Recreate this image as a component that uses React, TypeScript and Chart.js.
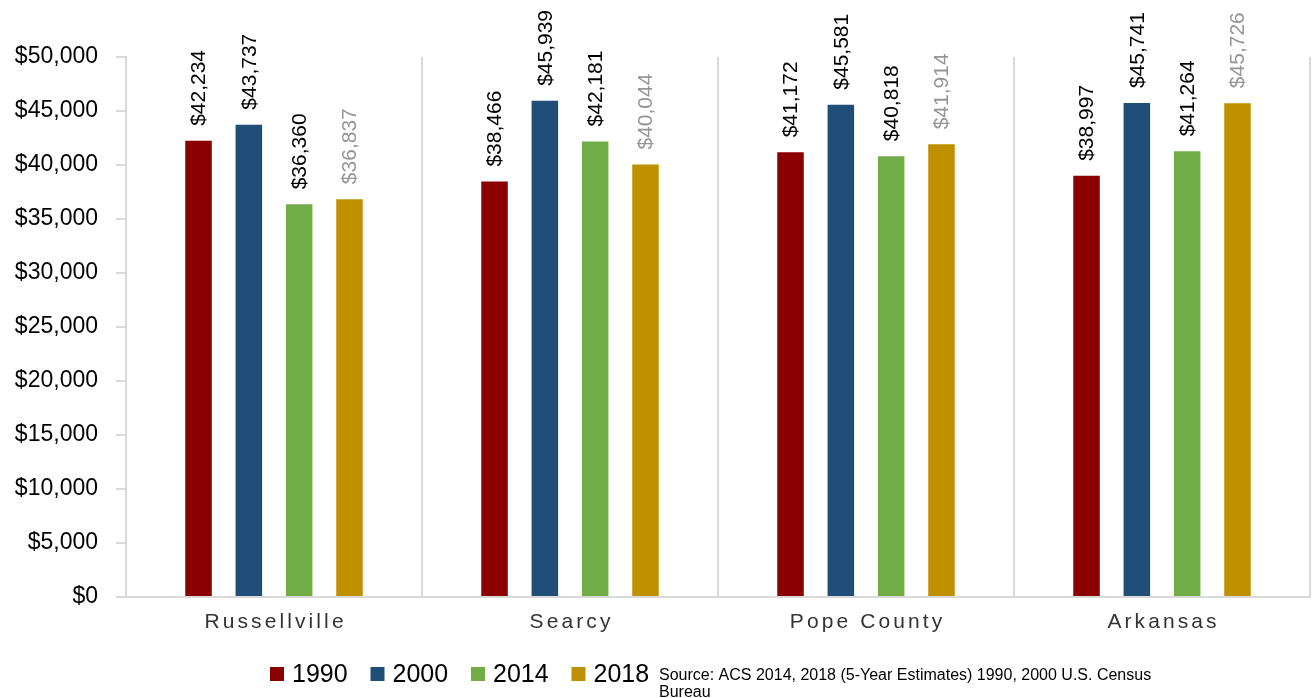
import React, { useEffect, useRef } from 'react';
import { Chart, registerables } from 'chart.js';

Chart.register(...registerables);

const categories = ['Russellville', 'Searcy', 'Pope County', 'Arkansas'];
const seriesLabels = ['1990', '2000', '2014', '2018'];
const values1990 = [42234, 38466, 41172, 38997];
const values2000 = [43737, 45939, 45581, 45741];
const values2014 = [36360, 42181, 40818, 41264];
const values2018 = [36837, 40044, 41914, 45726];
const seriesColors = ['#8B0000', '#1F4E79', '#70AD47', '#BF9000'];
const labelColors = ['#000000', '#000000', '#000000', '#969696'];
const yMax = 50000;
const yStep = 5000;
const sourceNote = 'Source: ACS 2014, 2018 (5-Year Estimates) 1990, 2000 U.S. Census Bureau';

const FONT = '"Liberation Sans", Arial, sans-serif';

const money = (v: number) => '$' + Math.round(v).toLocaleString('en-US');

const dataLabelPlugin = {
  id: 'dataLabelPlugin',
  afterDatasetsDraw(chart: any) {
    const ctx = chart.ctx;
    chart.data.datasets.forEach((ds: any, i: number) => {
      const meta = chart.getDatasetMeta(i);
      meta.data.forEach((bar: any, j: number) => {
        ctx.save();
        ctx.translate(bar.x, bar.y - 15);
        ctx.rotate(-Math.PI / 2);
        ctx.font = `21px ${FONT}`;
        ctx.fillStyle = labelColors[i];
        ctx.textAlign = 'left';
        ctx.textBaseline = 'middle';
        ctx.fillText(money(ds.data[j]), 0, 1);
        ctx.restore();
      });
    });
  },
};

const xLabelPlugin = {
  id: 'xLabelPlugin',
  afterDraw(chart: any) {
    const ctx = chart.ctx;
    const xs = chart.scales.x;
    const spacing = 3.1;
    ctx.save();
    ctx.font = `21px ${FONT}`;
    (ctx as any).letterSpacing = `${spacing}px`;
    ctx.fillStyle = '#333333';
    ctx.textAlign = 'left';
    ctx.textBaseline = 'middle';
    categories.forEach((c, i) => {
      const x = xs.getPixelForTick(i);
      const w = ctx.measureText(c).width - spacing;
      ctx.fillText(c, x - w / 2, chart.chartArea.bottom + 25);
    });
    ctx.restore();
  },
};

const legendPlugin = {
  id: 'legendPlugin',
  afterDraw(chart: any) {
    const ctx = chart.ctx;
    ctx.save();
    const startX = 270;
    const pitch = 100.5;
    const y = 674;
    chart.data.datasets.forEach((ds: any, i: number) => {
      const x = startX + i * pitch;
      ctx.fillStyle = ds.backgroundColor;
      ctx.fillRect(x, y - 7, 14, 14);
      ctx.font = `25px ${FONT}`;
      ctx.fillStyle = '#000000';
      ctx.textAlign = 'left';
      ctx.textBaseline = 'middle';
      ctx.fillText(ds.label, x + 22, y + 1);
    });
    // source note, wrapped
    ctx.font = `16px ${FONT}`;
    ctx.fillStyle = '#000000';
    ctx.textBaseline = 'alphabetic';
    const maxW = 500;
    const words = sourceNote.split(' ');
    const lines: string[] = [];
    let cur = '';
    words.forEach((w) => {
      const test = cur ? cur + ' ' + w : w;
      if (ctx.measureText(test).width > maxW && cur) {
        lines.push(cur);
        cur = w;
      } else {
        cur = test;
      }
    });
    if (cur) lines.push(cur);
    lines.forEach((l, k) => ctx.fillText(l, 659, 680 + k * 17));
    ctx.restore();
  },
};

export default function App() {
  const ref = useRef<HTMLCanvasElement | null>(null);

  useEffect(() => {
    if (!ref.current) return;
    const seriesValues = [values1990, values2000, values2014, values2018];
    const chart = new Chart(ref.current, {
      type: 'bar',
      data: {
        labels: categories,
        datasets: seriesLabels.map((label, i) => ({
          label,
          data: seriesValues[i],
          backgroundColor: seriesColors[i],
          borderWidth: 0,
          categoryPercentage: 0.68,
          barPercentage: 0.527,
        })),
      },
      options: {
        animation: false,
        responsive: false,
        devicePixelRatio: 1,
        layout: { padding: { top: 57, right: 2, left: 0, bottom: 0 } },
        plugins: {
          legend: { display: false },
          tooltip: { enabled: false },
        },
        scales: {
          x: {
            offset: true,
            grid: {
              display: true,
              drawOnChartArea: true,
              drawTicks: false,
              color: '#d9d9d9',
              lineWidth: 2,
              offset: true,
            },
            border: { display: true, color: '#d9d9d9', width: 2 },
            ticks: { display: false },
            afterFit: (scale: any) => {
              scale.height = 101;
            },
          },
          y: {
            min: 0,
            max: yMax,
            grid: {
              drawOnChartArea: false,
              drawTicks: true,
              tickLength: 10,
              color: '#d9d9d9',
              lineWidth: 2,
            },
            border: { display: true, color: '#d9d9d9', width: 2 },
            ticks: {
              stepSize: yStep,
              padding: 18,
              color: '#000000',
              font: { family: FONT, size: 23 },
              callback: (v: any) => money(Number(v)),
            },
            afterFit: (scale: any) => {
              scale.width = 126;
            },
          },
        },
      },
      plugins: [dataLabelPlugin, xLabelPlugin, legendPlugin],
    });
    return () => chart.destroy();
  }, []);

  return (
    <div style={{ position: 'absolute', left: 0, top: 0, width: 1312, height: 698, background: '#ffffff' }}>
      <canvas ref={ref} width={1312} height={698} style={{ display: 'block' }} />
    </div>
  );
}
